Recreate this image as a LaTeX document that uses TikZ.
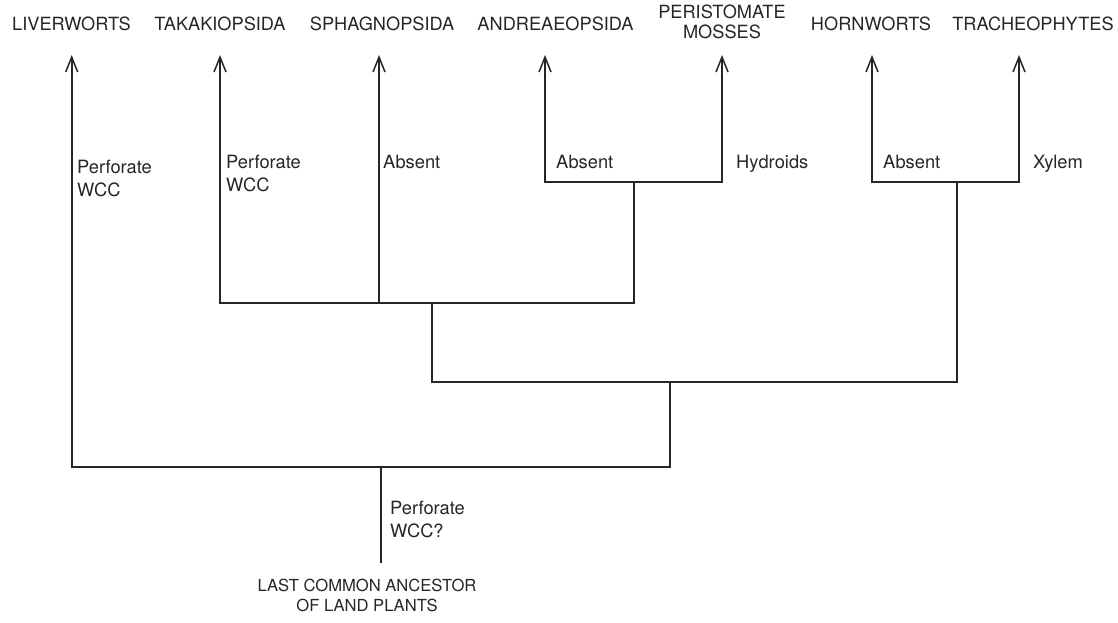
\documentclass[tikz,border=0pt]{standalone}
\usepackage{fontspec}
\setmainfont{TeX Gyre Heros}
\usetikzlibrary{arrows.meta}
\definecolor{ink}{HTML}{262626}
\tikzset{
  branch/.style={draw=ink, line width=1.8pt, line cap=rect},
  arr/.style={branch, -{Straight Barb[length=15pt,width=12pt,line width=1.5pt]}},
  taxon/.style={inner sep=0pt, anchor=base, text=ink, font=\fontsize{18.2}{20}\selectfont, align=center},
  trait/.style={inner sep=0pt, anchor=base west, text=ink, font=\fontsize{18.3}{23}\selectfont},
}
\newcommand{\twolines}[2]{\begin{tabular}[t]{@{}l@{}}#1\\#2\end{tabular}}
\newcommand{\twoc}[2]{\begin{tabular}[t]{@{}c@{}}#1\\#2\end{tabular}}
\begin{document}
\begin{tikzpicture}[x=1pt,y=-1pt]
\useasboundingbox (0,0) rectangle (1118,622);
% taxa labels
\node[taxon] (lLiv) at (71.5,30) {LIVERWORTS};
\node[taxon] (lTak) at (220,30) {TAKAKIOPSIDA};
\node[taxon] (lSph) at (382,30) {SPHAGNOPSIDA};
\node[taxon] (lAnd) at (555.5,30) {ANDREAEOPSIDA};
\node[taxon] (lPer) at (722,18) {\twoc{PERISTOMATE}{MOSSES}};
\node[taxon] (lHor) at (871,30) {HORNWORTS};
\node[taxon] (lTra) at (1033,30) {TRACHEOPHYTES};
% arrow tips
\coordinate (tLiv) at (71.7,55);
\coordinate (tTak) at (220,55);
\coordinate (tSph) at (379,55);
\coordinate (tAnd) at (545,55);
\coordinate (tPer) at (722,55);
\coordinate (tHor) at (872,55);
\coordinate (tTra) at (1019,55);
% junctions
\coordinate (root) at (380.7,562);
\coordinate (j0) at (380.7,467);
\coordinate (j1) at (670,467);
\coordinate (j1t) at (670,382);
\coordinate (j2) at (432,382);
\coordinate (j2t) at (432,303);
\coordinate (j3) at (957,382);
\coordinate (j3t) at (957,182);
\coordinate (j4) at (634,303);
\coordinate (j4t) at (634,182);
% tree
\draw[branch] (root) -- (j0);
\draw[arr] (j0) -| (tLiv);
\draw[branch] (j0) -- (j1) -- (j1t);
\draw[branch] (j2) -- (j3);
\draw[branch] (j2) -- (j2t);
\draw[branch] (j3) -- (j3t);
\draw[arr] (j2t) -| (tTak);
\draw[branch] (j2t) -- (j4) -- (j4t);
\draw[arr] (j2t -| tSph) -- (tSph);
\draw[arr] (j4t) -| (tAnd);
\draw[arr] (j4t) -| (tPer);
\draw[arr] (j3t) -| (tHor);
\draw[arr] (j3t) -| (tTra);
% trait labels
\node[trait] (cLiv) at (77,173) {\twolines{Perforate}{WCC}};
\node[trait] (cTak) at (226,168) {\twolines{Perforate}{WCC}};
\node[trait] (cSph) at (383,168) {Absent};
\node[trait] (cAnd) at (556,168) {Absent};
\node[trait] (cPer) at (736,168) {Hydroids};
\node[trait] (cHor) at (883,168) {Absent};
\node[trait] (cTra) at (1033,168) {Xylem};
\node[trait] (cRoot) at (390,514) {\twolines{Perforate}{WCC?}};
\node[taxon, font=\fontsize{16.6}{20.5}\selectfont] (anc) at (367,591) {\twoc{LAST COMMON ANCESTOR}{OF LAND PLANTS}};
\end{tikzpicture}
\end{document}
